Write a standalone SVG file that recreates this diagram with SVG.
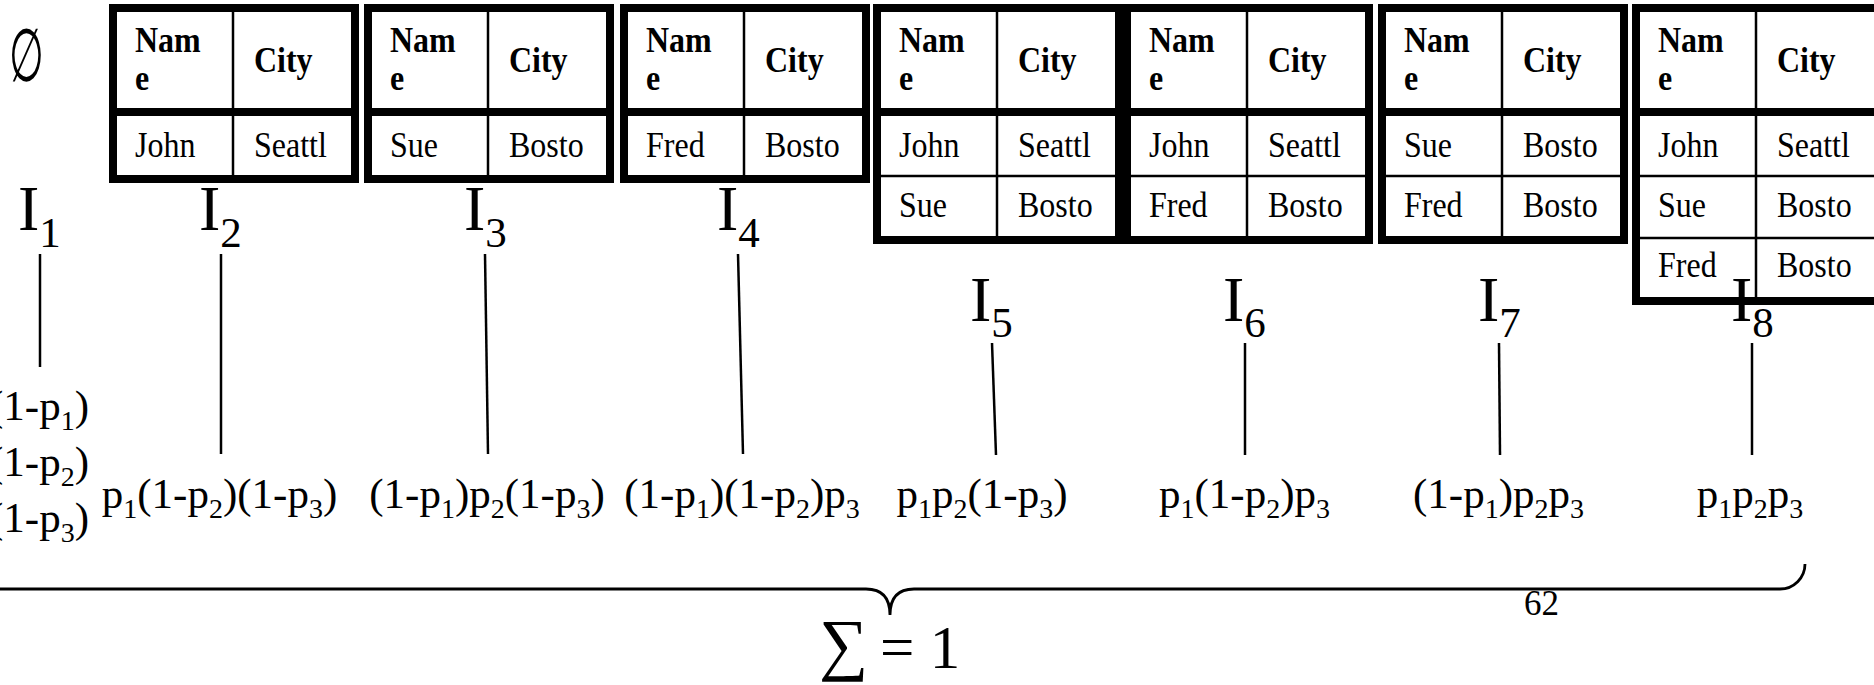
<svg xmlns="http://www.w3.org/2000/svg" width="1874" height="685" viewBox="0 0 1874 685">
  <style>
    .tb { fill: #fff; stroke: #000; stroke-width: 8; }
    .thick { stroke: #000; stroke-width: 8; }
    .thin { stroke: #000; stroke-width: 2.5; }
    .h, .c { transform-box: fill-box; transform-origin: 0 100%; transform: scaleY(1.13); fill: #000; }
    .h { font: bold 32px "Liberation Serif", "Times New Roman", serif; }
    .c { font: 32px "Liberation Serif", "Times New Roman", serif; }
    .lab { font: 64px "Liberation Serif", "Times New Roman", serif; fill: #000; }
    .ls { font-size: 43px; }
    .f { font: 43px "Liberation Serif", "Times New Roman", serif; fill: #000; }
    .s { font-size: 28px; }
    .conn { stroke: #000; stroke-width: 2.5; fill: none; }
    .brace { stroke: #000; stroke-width: 2.8; fill: none; }
  </style>

  <!-- empty instance -->
  <g id="I1">
    <text transform="translate(9,81) scale(0.67,1.24)" style="font: 60px 'Liberation Serif', 'DejaVu Serif', serif">∅</text>
    <text class="lab" x="18" y="230">I<tspan class="ls" dy="17">1</tspan></text>
    <text class="f" x="89" y="420" text-anchor="end">(1-p<tspan class="s" dy="10">1</tspan><tspan dy="-10">)</tspan></text>
    <text class="f" x="89" y="476" text-anchor="end">(1-p<tspan class="s" dy="10">2</tspan><tspan dy="-10">)</tspan></text>
    <text class="f" x="89" y="532" text-anchor="end">(1-p<tspan class="s" dy="10">3</tspan><tspan dy="-10">)</tspan></text>
  </g>

  <g id="I2">
    <rect class="tb" x="113" y="8" width="242" height="171"/>
    <line class="thick" x1="109" y1="112" x2="359" y2="112"/>
    <line class="thin" x1="233" y1="12" x2="233" y2="175"/>
    <text class="h" x="135" y="53">Nam</text><text class="h" x="135" y="91">e</text>
    <text class="h" x="254" y="73">City</text>
    <text class="c" x="135" y="158">John</text><text class="c" x="254" y="158">Seattl</text>
    <text class="lab" x="199" y="230">I<tspan class="ls" dy="17">2</tspan></text>
    <text class="f" x="219.5" y="508" text-anchor="middle">p<tspan class="s" dy="10">1</tspan><tspan dy="-10">(1-p</tspan><tspan class="s" dy="10">2</tspan><tspan dy="-10">)(1-p</tspan><tspan class="s" dy="10">3</tspan><tspan dy="-10">)</tspan></text>
  </g>

  <g id="I3">
    <rect class="tb" x="368" y="8" width="242" height="171"/>
    <line class="thick" x1="364" y1="112" x2="614" y2="112"/>
    <line class="thin" x1="488" y1="12" x2="488" y2="175"/>
    <text class="h" x="390" y="53">Nam</text><text class="h" x="390" y="91">e</text>
    <text class="h" x="509" y="73">City</text>
    <text class="c" x="390" y="158">Sue</text><text class="c" x="509" y="158">Bosto</text>
    <text class="lab" x="464" y="230">I<tspan class="ls" dy="17">3</tspan></text>
    <text class="f" x="487" y="508" text-anchor="middle">(1-p<tspan class="s" dy="10">1</tspan><tspan dy="-10">)p</tspan><tspan class="s" dy="10">2</tspan><tspan dy="-10">(1-p</tspan><tspan class="s" dy="10">3</tspan><tspan dy="-10">)</tspan></text>
  </g>

  <g id="I4">
    <rect class="tb" x="624" y="8" width="242" height="171"/>
    <line class="thick" x1="620" y1="112" x2="870" y2="112"/>
    <line class="thin" x1="744" y1="12" x2="744" y2="175"/>
    <text class="h" x="646" y="53">Nam</text><text class="h" x="646" y="91">e</text>
    <text class="h" x="765" y="73">City</text>
    <text class="c" x="646" y="158">Fred</text><text class="c" x="765" y="158">Bosto</text>
    <text class="lab" x="717" y="230">I<tspan class="ls" dy="17">4</tspan></text>
    <text class="f" x="742" y="508" text-anchor="middle">(1-p<tspan class="s" dy="10">1</tspan><tspan dy="-10">)(1-p</tspan><tspan class="s" dy="10">2</tspan><tspan dy="-10">)p</tspan><tspan class="s" dy="10">3</tspan></text>
  </g>

  <g id="I5">
    <rect class="tb" x="877" y="8" width="242" height="232"/>
    <line class="thick" x1="873" y1="112" x2="1123" y2="112"/>
    <line class="thin" x1="877" y1="176" x2="1119" y2="176"/>
    <line class="thin" x1="997" y1="12" x2="997" y2="236"/>
    <text class="h" x="899" y="53">Nam</text><text class="h" x="899" y="91">e</text>
    <text class="h" x="1018" y="73">City</text>
    <text class="c" x="899" y="158">John</text><text class="c" x="1018" y="158">Seattl</text>
    <text class="c" x="899" y="218">Sue</text><text class="c" x="1018" y="218">Bosto</text>
    <text class="lab" x="970" y="321">I<tspan class="ls" dy="16">5</tspan></text>
    <text class="f" x="982" y="508" text-anchor="middle">p<tspan class="s" dy="10">1</tspan><tspan dy="-10">p</tspan><tspan class="s" dy="10">2</tspan><tspan dy="-10">(1-p</tspan><tspan class="s" dy="10">3</tspan><tspan dy="-10">)</tspan></text>
  </g>

  <g id="I6">
    <rect class="tb" x="1127" y="8" width="242" height="232"/>
    <line class="thick" x1="1123" y1="112" x2="1373" y2="112"/>
    <line class="thin" x1="1127" y1="176" x2="1369" y2="176"/>
    <line class="thin" x1="1247" y1="12" x2="1247" y2="236"/>
    <text class="h" x="1149" y="53">Nam</text><text class="h" x="1149" y="91">e</text>
    <text class="h" x="1268" y="73">City</text>
    <text class="c" x="1149" y="158">John</text><text class="c" x="1268" y="158">Seattl</text>
    <text class="c" x="1149" y="218">Fred</text><text class="c" x="1268" y="218">Bosto</text>
    <text class="lab" x="1223" y="321">I<tspan class="ls" dy="16">6</tspan></text>
    <text class="f" x="1244.5" y="508" text-anchor="middle">p<tspan class="s" dy="10">1</tspan><tspan dy="-10">(1-p</tspan><tspan class="s" dy="10">2</tspan><tspan dy="-10">)p</tspan><tspan class="s" dy="10">3</tspan></text>
  </g>

  <g id="I7">
    <rect class="tb" x="1382" y="8" width="242" height="232"/>
    <line class="thick" x1="1378" y1="112" x2="1628" y2="112"/>
    <line class="thin" x1="1382" y1="176" x2="1624" y2="176"/>
    <line class="thin" x1="1502" y1="12" x2="1502" y2="236"/>
    <text class="h" x="1404" y="53">Nam</text><text class="h" x="1404" y="91">e</text>
    <text class="h" x="1523" y="73">City</text>
    <text class="c" x="1404" y="158">Sue</text><text class="c" x="1523" y="158">Bosto</text>
    <text class="c" x="1404" y="218">Fred</text><text class="c" x="1523" y="218">Bosto</text>
    <text class="lab" x="1478" y="321">I<tspan class="ls" dy="16">7</tspan></text>
    <text class="f" x="1498.5" y="508" text-anchor="middle">(1-p<tspan class="s" dy="10">1</tspan><tspan dy="-10">)p</tspan><tspan class="s" dy="10">2</tspan><tspan dy="-10">p</tspan><tspan class="s" dy="10">3</tspan></text>
  </g>

  <g id="I8">
    <rect class="tb" x="1636" y="8" width="242" height="293"/>
    <line class="thick" x1="1632" y1="112" x2="1882" y2="112"/>
    <line class="thin" x1="1636" y1="176" x2="1878" y2="176"/>
    <line class="thin" x1="1636" y1="238" x2="1878" y2="238"/>
    <line class="thin" x1="1756" y1="12" x2="1756" y2="297"/>
    <text class="h" x="1658" y="53">Nam</text><text class="h" x="1658" y="91">e</text>
    <text class="h" x="1777" y="73">City</text>
    <text class="c" x="1658" y="158">John</text><text class="c" x="1777" y="158">Seattl</text>
    <text class="c" x="1658" y="218">Sue</text><text class="c" x="1777" y="218">Bosto</text>
    <text class="c" x="1658" y="278">Fred</text><text class="c" x="1777" y="278">Bosto</text>
    <text class="lab" x="1731" y="321">I<tspan class="ls" dy="16">8</tspan></text>
    <text class="f" x="1750" y="508" text-anchor="middle">p<tspan class="s" dy="10">1</tspan><tspan dy="-10">p</tspan><tspan class="s" dy="10">2</tspan><tspan dy="-10">p</tspan><tspan class="s" dy="10">3</tspan></text>
  </g>

  <!-- links from each instance label to its probability -->
  <g id="connectors">
    <line class="conn" x1="40" y1="254" x2="40" y2="367"/>
    <line class="conn" x1="221" y1="254" x2="221" y2="454"/>
    <line class="conn" x1="485" y1="254" x2="488" y2="454"/>
    <line class="conn" x1="738" y1="254" x2="743" y2="454"/>
    <line class="conn" x1="992" y1="343" x2="996" y2="455"/>
    <line class="conn" x1="1245" y1="343" x2="1245" y2="455"/>
    <line class="conn" x1="1499" y1="343" x2="1500" y2="455"/>
    <line class="conn" x1="1752" y1="343" x2="1752" y2="455"/>
  </g>

  <!-- summing brace -->
  <g id="sum">
    <path class="brace" d="M -5 589 H 866 C 882 589 890 598 890 615 C 890 598 898 589 914 589 H 1780 A 25 25 0 0 0 1805 564"/>
    <text x="819" y="667" style="font: 69px 'Liberation Serif', 'DejaVu Serif', serif">∑</text>
    <text x="880" y="668" style="font: 61px 'Liberation Serif', serif">= 1</text>
    <text x="1524" y="615" style="font: 35px 'Liberation Serif', serif">62</text>
  </g>
</svg>
